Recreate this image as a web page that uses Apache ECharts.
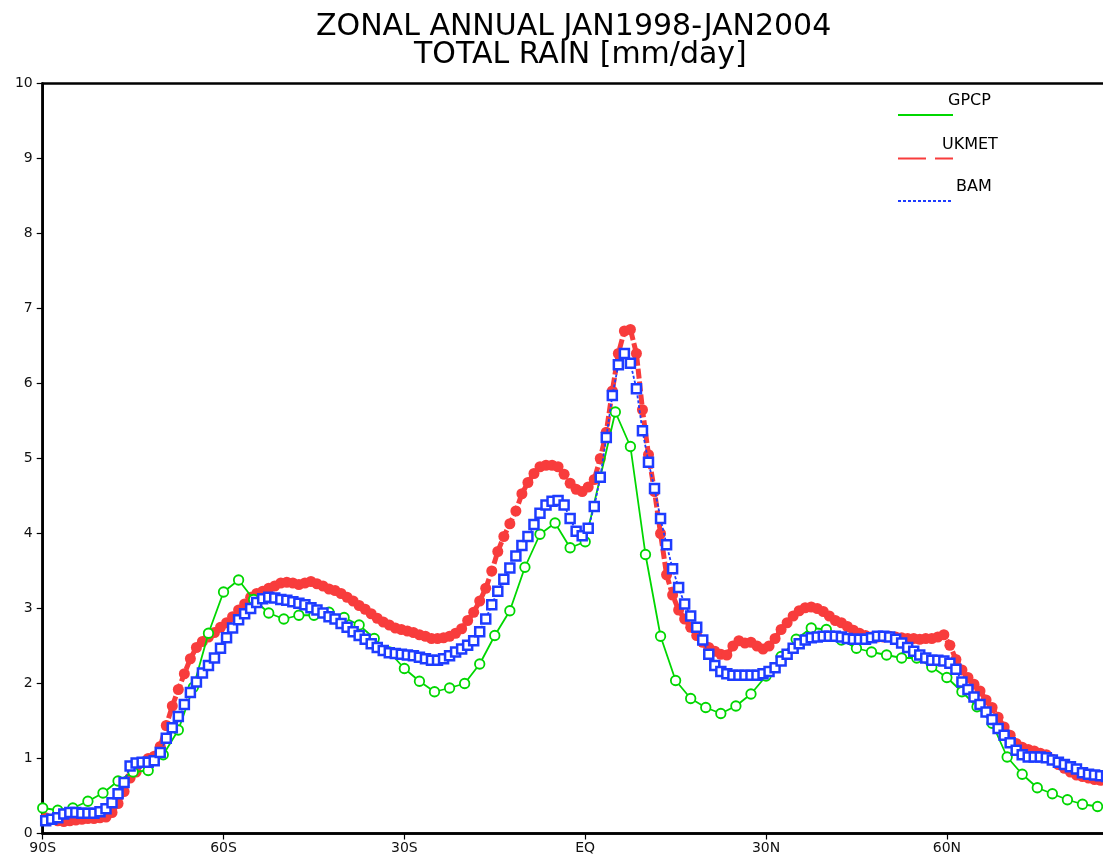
<!DOCTYPE html>
<html>
<head>
<meta charset="utf-8">
<script src="https://cdn.jsdelivr.net/npm/echarts@6/dist/echarts.min.js"></script>
<style>
html,body{margin:0;padding:0;background:#fff;}
#chart{width:1103px;height:862px;}
</style>
</head>
<body>
<div id="chart"></div>
<script>
// ---- data ----
const titleLines = ['ZONAL ANNUAL JAN1998-JAN2004', 'TOTAL RAIN [mm/day]'];
const xTickValues = [-90, -60, -30, 0, 30, 60, 90];
const xTickLabels = ['90S', '60S', '30S', 'EQ', '30N', '60N', '90N'];

// GPCP: 2.5 degree grid, starting at 90S
const gpcpLatStart = -90, gpcpLatStep = 2.5;
const gpcp = [
  0.34, 0.31, 0.34, 0.43, 0.54, 0.70, 0.82, 0.84, 1.05, 1.38,
  1.95, 2.67, 3.22, 3.38, 3.12, 2.94, 2.86, 2.91, 2.91, 2.95,
  2.88, 2.78, 2.60, 2.42, 2.20, 2.03, 1.89, 1.94, 2.00, 2.26,
  2.64, 2.97, 3.55, 3.99, 4.14, 3.81, 3.89, 4.75, 5.62, 5.16,
  3.72, 2.63, 2.04, 1.80, 1.68, 1.60, 1.70, 1.86, 2.10, 2.36,
  2.59, 2.74, 2.72, 2.58, 2.47, 2.42, 2.38, 2.34, 2.34, 2.22,
  2.08, 1.89, 1.69, 1.47, 1.02, 0.79, 0.61, 0.53, 0.45, 0.39,
  0.36, 0.34, 0.33
];

// Models: 1 degree grid, starting at 89.5S
const modelLatStart = -89.5, modelLatStep = 1;
const ukmet = [
  0.21,0.19,0.17,0.16,0.17,0.18,0.19,0.20,0.20,0.21,
  0.22,0.28,0.40,0.56,0.74,0.82,0.95,1.00,1.03,1.16,
  1.44,1.70,1.92,2.13,2.33,2.48,2.56,2.62,2.68,2.75,
  2.81,2.89,2.98,3.06,3.15,3.20,3.23,3.27,3.30,3.34,
  3.35,3.34,3.32,3.34,3.36,3.33,3.30,3.26,3.24,3.20,
  3.15,3.10,3.04,2.99,2.93,2.87,2.82,2.78,2.74,2.72,
  2.70,2.68,2.65,2.63,2.60,2.60,2.61,2.63,2.67,2.73,
  2.84,2.95,3.10,3.27,3.50,3.76,3.96,4.13,4.30,4.53,
  4.68,4.80,4.89,4.91,4.91,4.89,4.79,4.67,4.59,4.56,
  4.62,4.72,5.00,5.35,5.90,6.40,6.70,6.72,6.40,5.65,
  5.05,4.56,4.00,3.45,3.18,2.98,2.86,2.75,2.64,2.55,
  2.48,2.43,2.39,2.38,2.50,2.57,2.54,2.55,2.50,2.46,
  2.50,2.60,2.72,2.81,2.90,2.97,3.01,3.02,3.00,2.96,
  2.90,2.84,2.81,2.76,2.71,2.67,2.64,2.62,2.62,2.62,
  2.63,2.62,2.61,2.60,2.60,2.59,2.60,2.60,2.62,2.65,
  2.51,2.32,2.18,2.08,1.99,1.90,1.78,1.68,1.55,1.42,
  1.31,1.20,1.15,1.12,1.10,1.07,1.05,0.99,0.92,0.87,
  0.82,0.78,0.76,0.74,0.72,0.71,0.70,0.69,0.68,0.68
];
const bam = [
  0.17,0.19,0.21,0.26,0.28,0.28,0.27,0.27,0.27,0.29,
  0.33,0.41,0.53,0.68,0.90,0.94,0.95,0.95,0.97,1.08,
  1.27,1.41,1.56,1.72,1.88,2.02,2.14,2.24,2.34,2.47,
  2.61,2.74,2.85,2.93,3.00,3.08,3.13,3.15,3.14,3.12,
  3.11,3.09,3.07,3.05,3.01,2.98,2.94,2.89,2.86,2.80,
  2.75,2.69,2.64,2.59,2.53,2.48,2.44,2.41,2.40,2.39,
  2.38,2.37,2.35,2.33,2.31,2.31,2.33,2.37,2.42,2.46,
  2.51,2.57,2.69,2.86,3.05,3.23,3.39,3.54,3.70,3.84,
  3.96,4.12,4.27,4.38,4.43,4.44,4.38,4.20,4.03,3.97,
  4.07,4.36,4.75,5.28,5.84,6.25,6.40,6.27,5.93,5.37,
  4.95,4.60,4.20,3.85,3.53,3.28,3.06,2.90,2.75,2.58,
  2.39,2.24,2.16,2.13,2.11,2.11,2.11,2.11,2.11,2.13,
  2.16,2.21,2.30,2.39,2.47,2.53,2.58,2.61,2.62,2.63,
  2.63,2.63,2.62,2.60,2.59,2.59,2.59,2.61,2.63,2.63,
  2.62,2.59,2.54,2.48,2.43,2.38,2.34,2.31,2.31,2.30,
  2.27,2.19,2.02,1.92,1.82,1.72,1.62,1.52,1.40,1.31,
  1.21,1.11,1.05,1.02,1.02,1.02,1.01,0.98,0.95,0.92,
  0.89,0.86,0.81,0.79,0.78,0.77,0.76,0.75,0.75,0.74
];

const legendNames = ['GPCP', 'UKMET', 'BAM'];
const colors = { GPCP: 'rgb(0,215,0)', UKMET: 'rgb(248,60,60)', BAM: 'rgb(30,60,255)' };

// ---- build ----
function pairs(start, step, vals) {
  return vals.map((v, i) => [start + i * step, v]);
}
const FONT = '"DejaVu Sans", "Liberation Sans", sans-serif';
const chart = echarts.init(document.getElementById('chart'), null, { renderer: 'canvas' });

const gridLeft = 42.7, gridTop = 83.5, gridW = 1085, gridH = 750;

function legendItem(name, y, textX, dash) {
  return [
    { type: 'line', shape: { x1: 898, y1: y, x2: 953, y2: y },
      style: { stroke: colors[name], lineWidth: 2.2, lineDash: dash }, z: 100 },
    { type: 'text', x: textX, y: y - 22,
      style: { text: name, font: '16px ' + FONT, fill: '#000', textVerticalAlign: 'top' }, z: 100 }
  ];
}

const option = {
  animation: false,
  backgroundColor: '#fff',
  title: [
    { text: titleLines[0], left: 311, top: 7,
      textStyle: { fontFamily: FONT, fontSize: 30, fontWeight: 'normal', color: '#000' } },
    { text: titleLines[1], left: 409, top: 35,
      textStyle: { fontFamily: FONT, fontSize: 30, fontWeight: 'normal', color: '#000' } }
  ],
  grid: { left: gridLeft, top: gridTop, width: gridW, height: gridH, show: true,
          containLabel: false, outerBoundsMode: 'none',
          borderColor: '#000', borderWidth: 2.5, backgroundColor: 'transparent' },
  xAxis: {
    type: 'value', min: -90, max: 90, interval: 30,
    axisLine: { onZero: false, lineStyle: { color: '#000', width: 2.5 } },
    axisTick: { show: true, length: 6, inside: false, lineStyle: { color: '#000', width: 1.2 } },
    splitLine: { show: false },
    axisLabel: { margin: 8, fontFamily: FONT, fontSize: 14, color: '#111',
      formatter: v => { const k = xTickValues.indexOf(v); return k >= 0 ? xTickLabels[k] : ''; } }
  },
  yAxis: {
    type: 'value', min: 0, max: 10, interval: 1,
    axisLine: { show: true, onZero: false, lineStyle: { color: '#000', width: 2.5 } },
    axisTick: { show: true, length: 6, lineStyle: { color: '#000', width: 1.2 } },
    splitLine: { show: false },
    axisLabel: { margin: 10, fontFamily: FONT, fontSize: 14, color: '#111' }
  },
  series: [
    { name: 'UKMET', type: 'line', z: 2,
      data: pairs(modelLatStart, modelLatStep, ukmet),
      symbol: 'circle', symbolSize: 11, showAllSymbol: true,
      itemStyle: { color: colors.UKMET },
      lineStyle: { color: colors.UKMET, width: 5, type: [10, 3] } },
    { name: 'GPCP', type: 'line', z: 3,
      data: pairs(gpcpLatStart, gpcpLatStep, gpcp),
      symbol: 'circle', symbolSize: 9.5, showAllSymbol: true,
      itemStyle: { color: '#fff', borderColor: colors.GPCP, borderWidth: 1.8 },
      lineStyle: { color: colors.GPCP, width: 1.8 } },
    { name: 'BAM', type: 'line', z: 4,
      data: pairs(modelLatStart, modelLatStep, bam),
      symbol: 'rect', symbolSize: 9, showAllSymbol: true,
      itemStyle: { color: '#fff', borderColor: colors.BAM, borderWidth: 2.5 },
      lineStyle: { color: colors.BAM, width: 1.8, type: [3, 2] } }
  ],
  graphic: [].concat(
    legendItem('GPCP', 115, 948, null),
    legendItem('UKMET', 158.5, 942, [28, 9]),
    legendItem('BAM', 201, 956, [3, 2])
  )
};
chart.setOption(option);
</script>
</body>
</html>
